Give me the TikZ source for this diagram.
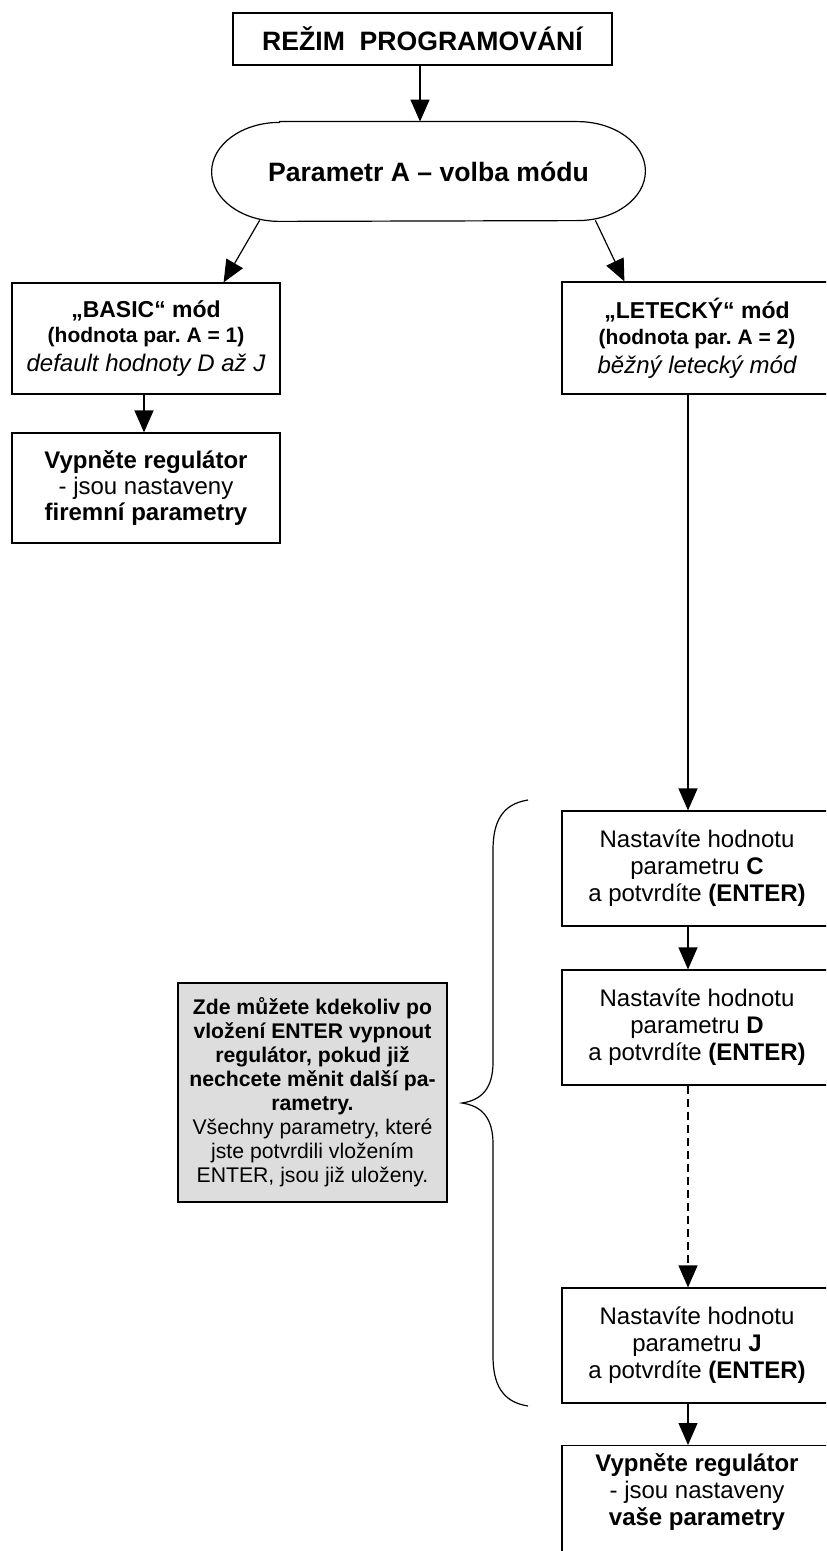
\documentclass[tikz,border=0pt]{standalone}
\usepackage{fontspec}
\setmainfont{Liberation Sans}
\usetikzlibrary{arrows.meta}
\definecolor{notegray}{RGB}{221,221,221}
\frenchspacing

\tikzset{
  box/.style={draw, line width=0.6pt, align=center, inner sep=0pt, minimum width=135pt, font=\fontsize{12}{13.5}\selectfont},
  arr/.style={line width=0.6pt, -{Triangle[width=9.5pt,length=11pt]}},
  modebox/.style={box, font=\fontsize{12}{12.9}\selectfont},
}
\newcommand{\partext}[1]{Nastavíte hodnotu\\ parametru \textbf{#1}\\ a potvrdíte \textbf{(ENTER)}}

\begin{document}
\begin{tikzpicture}[x=0.5pt,y=-0.5pt]
\useasboundingbox (0,0) rectangle (826,1551);
\clip (0,0) rectangle (826,1551);

\node [box, minimum width=189.5pt, minimum height=26pt, font=\fontsize{13.3}{16}\selectfont\bfseries] (rezim) at (422.5,39) {REŽIM\ \ PROGRAMOVÁNÍ};

\node [minimum width=216.5pt, minimum height=49.5pt, inner sep=0pt, font=\fontsize{13.3}{16}\selectfont\bfseries] (volba) at (428.5,171.5) {Parametr A – volba módu};
\draw [line width=0.6pt] ([xshift=34pt]volba.north west) -- ([xshift=-34pt]volba.north east)
  arc [start angle=90, end angle=-90, x radius=34pt, y radius=24.75pt]
  -- ([xshift=34pt]volba.south west)
  arc [start angle=270, end angle=90, x radius=34pt, y radius=24.75pt] -- cycle;

\node [modebox, minimum width=134pt, minimum height=55.5pt] (basic) at (146,338.5)
  {{\fontsize{11.5}{12.9}\selectfont\bfseries „BASIC“ mód}\\
   {\fontsize{10.5}{12.9}\selectfont\bfseries (hodnota par. A = 1)}\\[1.5pt]
   \itshape default hodnoty D až J};
\node [box, minimum width=134pt, minimum height=55pt, font=\fontsize{12}{13}\selectfont] (off1) at (146,488)
  {\textbf{Vypněte regulátor}\\ - jsou nastaveny\\ \textbf{firemní parametry}};

\node [modebox, minimum height=56pt] (letecky) at (697,338)
  {{\fontsize{11.5}{12.9}\selectfont\bfseries „LETECKÝ“ mód}\\
   {\fontsize{10.5}{12.9}\selectfont\bfseries (hodnota par. A = 2)}\\[1.5pt]
   \itshape běžný letecký mód};

\node [box, minimum height=57.5pt] (parC) at (697,868.5) {\partext{C}};
\node [box, minimum height=57.5pt] (parD) at (697,1027.5) {\partext{D}};
\node [box, minimum height=57.5pt] (parJ) at (697,1345.5) {\partext{J}};
\node [box, anchor=north, inner ysep=4pt, text depth=34pt] (off2) at (697,1445)
  {\textbf{Vypněte regulátor}\\ - jsou nastaveny\\ \textbf{vaše parametry}};

\node [draw, fill=notegray, line width=0.6pt, align=center, inner sep=0pt,
  minimum width=134.5pt, minimum height=109.5pt, font=\fontsize{10.6}{12}\selectfont] (note) at (312.5,1092.5)
  {\textbf{Zde můžete kdekoliv po}\\ \textbf{vložení ENTER vypnout}\\ \textbf{regulátor, pokud již}\\
   \textbf{nechcete měnit další pa-}\\ \textbf{rametry.}\\ Všechny parametry, které\\
   jste potvrdili vložením\\ ENTER, jsou již uloženy.};

\draw [line width=0.6pt] (528,800) .. controls (502,804) and (493,822) .. (493,850) -- (493,1062)
  .. controls (493,1088) and (482,1100) .. (462,1103)
  .. controls (482,1106) and (493,1118) .. (493,1144) -- (493,1356)
  .. controls (493,1384) and (502,1402) .. (528,1406);

\draw [arr] (rezim.south -| 420,0) -- (volba.north -| 420,0);
\draw [arr] ([xshift=24pt,yshift=0.5pt]volba.south west) -- ([xshift=-28.5pt]basic.north east);
\draw [arr] ([xshift=-25pt,yshift=0.5pt]volba.south east) -- ([xshift=31.5pt]letecky.north west);
\draw [arr] ([xshift=-1pt]basic.south) -- ([xshift=-1pt]off1.north);
\draw [arr] ([xshift=-4.5pt]letecky.south) -- ([xshift=-4.5pt]parC.north);
\draw [arr] ([xshift=-4.5pt]parC.south) -- ([xshift=-4.5pt]parD.north);
\draw [arr, dash pattern=on 4pt off 2.5pt] ([xshift=-4.5pt]parD.south) -- ([xshift=-4.5pt]parJ.north);
\draw [arr] ([xshift=-4.5pt]parJ.south) -- ([xshift=-4.5pt]off2.north);

\end{tikzpicture}
\end{document}
